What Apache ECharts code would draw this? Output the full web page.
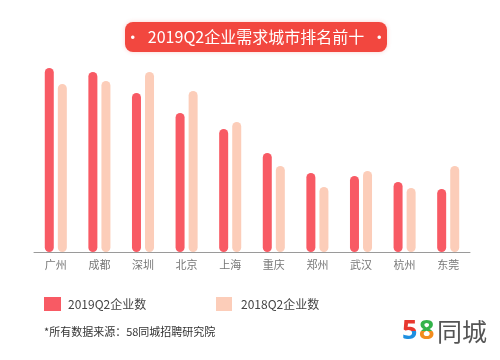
<!DOCTYPE html>
<html><head><meta charset="utf-8">
<script src="https://cdn.jsdelivr.net/npm/echarts@6/dist/echarts.min.js"></script>
<style>html,body{margin:0;padding:0;background:#fff}#c{width:500px;height:360px}</style>
</head><body><div id="c"></div>
<script>
const cities = ['广州','成都','深圳','北京','上海','重庆','郑州','武汉','杭州','东莞'];
const q2019 = [184, 180, 159, 139, 123, 99, 79, 76, 70, 63];
const q2018 = [168, 171, 180, 161, 130, 86, 65, 81, 64, 86];
const seriesNames = ['2019Q2企业数', '2018Q2企业数'];
const titleText = '·  2019Q2企业需求城市排名前十  ·';
const sourceText = '*所有数据来源：58同城招聘研究院';

const chart = echarts.init(document.getElementById('c'), null, {renderer: 'canvas'});
const FONT = '"Noto Sans CJK SC", "Noto Sans", sans-serif';
const red = '#f85a64', light = '#fccdb9';
chart.setOption({
  animation: false,
  textStyle: {fontFamily: FONT},
  grid: {left: 34, right: 30, top: 52, height: 200},
  xAxis: {
    type: 'category', data: cities,
    axisLine: {lineStyle: {color: '#9a9a9a', width: 1}},
    axisTick: {show: false},
    axisLabel: {color: '#777', fontSize: 11, margin: 7, fontFamily: FONT}
  },
  yAxis: {type: 'value', min: 0, max: 200, show: false, splitLine: {show: false}},
  series: [
    {name: seriesNames[0], type: 'bar', data: q2019, barWidth: 9, barGap: '45%',
     itemStyle: {color: red, borderRadius: 4.5}},
    {name: seriesNames[1], type: 'bar', data: q2018, barWidth: 9,
     itemStyle: {color: light, borderRadius: 4.5}}
  ],
  graphic: [
    {type: 'rect', shape: {x: 125, y: 22, width: 262, height: 30, r: 8},
     style: {fill: '#f2473f', shadowBlur: 4, shadowColor: 'rgba(242,71,63,0.25)'}},
    {type: 'text', x: 256, y: 37,
     style: {text: titleText, fill: '#fff', font: '16px ' + FONT, align: 'center', verticalAlign: 'middle'}},
    {type: 'rect', shape: {x: 44, y: 297, width: 17, height: 14}, style: {fill: red}},
    {type: 'text', x: 68, y: 304,
     style: {text: seriesNames[0], fill: '#444', font: '12px ' + FONT, verticalAlign: 'middle'}},
    {type: 'rect', shape: {x: 216, y: 297, width: 16, height: 14}, style: {fill: light}},
    {type: 'text', x: 241, y: 304,
     style: {text: seriesNames[1], fill: '#444', font: '12px ' + FONT, verticalAlign: 'middle'}},
    {type: 'text', x: 44, y: 332,
     style: {text: sourceText, fill: '#333', font: '11px ' + FONT, verticalAlign: 'middle'}},
    {type: 'text', x: 437, y: 331,
     style: {text: '同城', fill: '#555', font: '25px ' + FONT, verticalAlign: 'middle'}}
  ]
});
// two-tone "58" logo digits using clipped copies (clip rect in element-local coords)
const zr = chart.getZr();
function digit(ch, x, top, bottom) {
  [[top, -30, 30], [bottom, 0, 30]].forEach(function (p) {
    const t = new echarts.graphic.Text({
      x: x, y: 331,
      style: {text: ch, font: 'bold 27px "Open Sans", sans-serif', verticalAlign: 'middle', fill: p[0]},
      z: 100
    });
    t.setClipPath(new echarts.graphic.Rect({shape: {x: -2, y: p[1], width: 24, height: p[2]}}));
    zr.add(t);
  });
}
digit('5', 402, '#e8382f', '#1e8fe0');
digit('8', 419, '#33b34a', '#f28c1e');
zr.refreshImmediately();
</script></body></html>
